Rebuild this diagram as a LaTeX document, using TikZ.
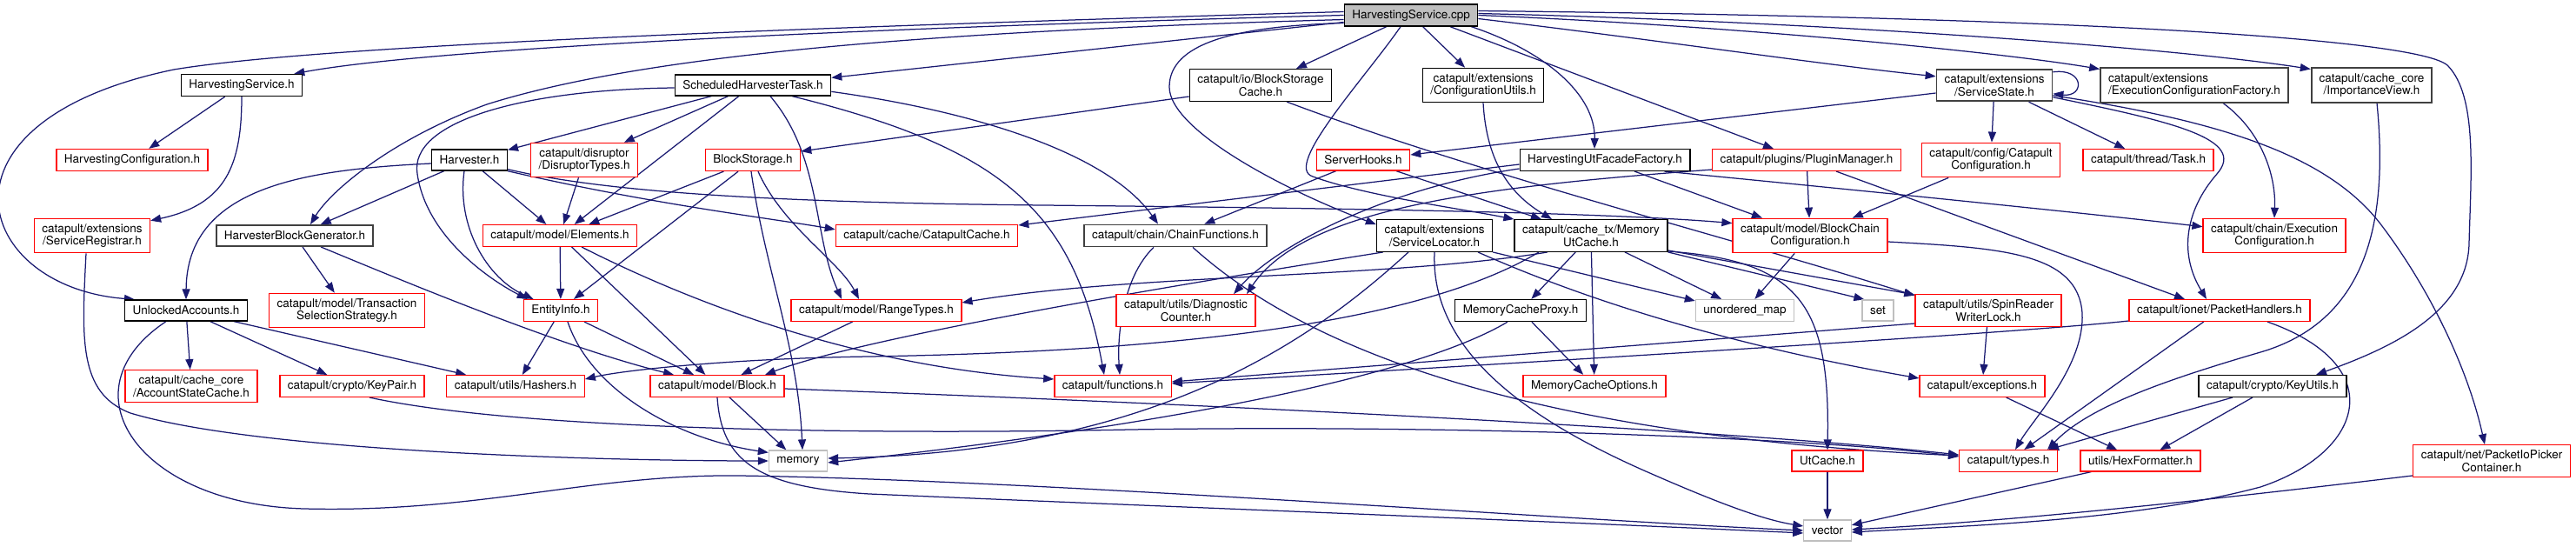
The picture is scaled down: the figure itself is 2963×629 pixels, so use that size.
\documentclass[tikz,border=0pt]{standalone}
\usepackage{fontspec}
\setmainfont{TeX Gyre Heros}
\usetikzlibrary{arrows.meta, backgrounds}
\definecolor{edgeblue}{HTML}{191970}
\definecolor{sysgray}{HTML}{BFBFBF}
\definecolor{nodeline}{HTML}{404040}

\begin{document}
\begin{tikzpicture}[
    x=1pt, y=-1pt,
    box/.style={draw=black, line width=1.3pt, fill=white, minimum height=24pt, inner xsep=9pt, inner ysep=6pt, align=center, font=\fontsize{13.5}{14.5}\selectfont},
    greybox/.style={box, draw=nodeline, line width=1.8pt},
    redbox/.style={box, draw=red},
    sysbox/.style={box, draw=sysgray},
    mainbox/.style={box, fill=sysgray},
    arrow/.style={draw=edgeblue, line width=1.25pt, -{Triangle[length=12pt, width=9pt]}},
]
\useasboundingbox (0,0) rectangle (2963,629);

% Source file
\node[mainbox] (cpp) at (1623,17.5) {HarvestingService.cpp};

% Row 1
\node[box] (hs) at (278,98) {HarvestingService.h};
\node[box] (sht) at (866,98) {ScheduledHarvesterTask.h};
\node[box] (bsc) at (1450,98) {catapult/io/BlockStorage\\Cache.h};
\node[box] (cu) at (1706,98) {catapult/extensions\\/ConfigurationUtils.h};
\node[greybox] (ss) at (2294,98) {catapult/extensions\\/ServiceState.h};
\node[greybox, align=left] (ecf) at (2524,98) {catapult/extensions\\/ExecutionConfigurationFactory.h};
\node[greybox] (iv) at (2728,98) {catapult/cache\_core\\/ImportanceView.h};

% Row 2
\node[redbox] (hc) at (152,184) {HarvestingConfiguration.h};
\node[box] (hv) at (540,184) {Harvester.h};
\node[redbox] (dt) at (672,184) {catapult/disruptor\\/DisruptorTypes.h};
\node[redbox] (bs) at (866,184) {BlockStorage.h};
\node[redbox] (sh) at (1568,184) {ServerHooks.h};
\node[box] (huf) at (1846,184) {HarvestingUtFacadeFactory.h};
\node[redbox] (pm) at (2078,184) {catapult/plugins/PluginManager.h};
\node[redbox] (cc) at (2290,184) {catapult/config/Catapult\\Configuration.h};
\node[redbox] (task) at (2471,184) {catapult/thread/Task.h};

% Row 3
\node[redbox] (sr) at (106,271) {catapult/extensions\\/ServiceRegistrar.h};
\node[greybox] (hbg) at (339,271) {HarvesterBlockGenerator.h};
\node[redbox] (el) at (644,271) {catapult/model/Elements.h};
\node[redbox] (ccache) at (1066,271) {catapult/cache/CatapultCache.h};
\node[greybox] (cf) at (1352,271) {catapult/chain/ChainFunctions.h};
\node[box] (sl) at (1650,271) {catapult/extensions\\/ServiceLocator.h};
\node[box] (muc) at (1830,271) {catapult/cache\_tx/Memory\\UtCache.h};
\node[redbox] (bcc) at (2082,271) {catapult/model/BlockChain\\Configuration.h};
\node[redbox] (ec) at (2616,271) {catapult/chain/Execution\\Configuration.h};

% Row 4
\node[box] (ua) at (214,357) {UnlockedAccounts.h};
\node[redbox] (tss) at (399,357) {catapult/model/Transaction\\SelectionStrategy.h};
\node[redbox] (ei) at (645,357) {EntityInfo.h};
\node[redbox] (rt) at (1008,357) {catapult/model/RangeTypes.h};
\node[redbox] (dc) at (1364,357) {catapult/utils/Diagnostic\\Counter.h};
\node[box] (mcp) at (1749,357) {MemoryCacheProxy.h};
\node[sysbox] (um) at (2007,357) {unordered\_map};
\node[sysbox] (stdset) at (2160,357) {set};
\node[redbox] (srw) at (2287,357) {catapult/utils/SpinReader\\WriterLock.h};
\node[redbox] (ph) at (2553,357) {catapult/ionet/PacketHandlers.h};

% Row 5
\node[redbox] (asc) at (220,444) {catapult/cache\_core\\/AccountStateCache.h};
\node[redbox] (kp) at (405,444) {catapult/crypto/KeyPair.h};
\node[redbox] (hash) at (593,444) {catapult/utils/Hashers.h};
\node[redbox] (blk) at (825,444) {catapult/model/Block.h};
\node[redbox] (fn) at (1280,444) {catapult/functions.h};
\node[redbox] (mco) at (1834,444) {MemoryCacheOptions.h};
\node[redbox] (exc) at (2280,444) {catapult/exceptions.h};
\node[box] (ku) at (2614,444) {catapult/crypto/KeyUtils.h};

% Row 6 and 7
\node[sysbox] (mem) at (918,530) {memory};
\node[redbox] (utc) at (2102,530) {UtCache.h};
\node[redbox] (types) at (2310,530) {catapult/types.h};
\node[redbox] (hex) at (2462,530) {utils/HexFormatter.h};
\node[redbox] (pipc) at (2866,530) {catapult/net/PacketIoPicker\\Container.h};
\node[sysbox] (vec) at (2102,610) {vector};

\begin{scope}[on background layer]
% Includes of the source file
\draw[arrow] ([yshift=4pt]cpp.west) .. controls (800,35) and (350,55) .. (200,80) .. controls (-90,140) and (-30,330) .. ([xshift=12pt]ua.north west);
\draw[arrow] (cpp.west) .. controls (1000,32) and (500,55) .. ([xshift=-10pt]hs.north east);
\draw[arrow] ([yshift=-5pt]cpp.west) .. controls (1100,35) and (750,60) .. (560,120) .. controls (450,160) and (380,220) .. ([xshift=18pt]hbg.north);
\draw[arrow] ([yshift=-8pt]cpp.west) -- ([yshift=-4pt]sht.north east);
\draw[arrow] ([yshift=-9pt]cpp.west) .. controls (1420,30) and (1345,50) .. (1345,100) .. controls (1345,150) and (1480,220) .. ([yshift=-6pt]sl.north west);
\draw[arrow] ([xshift=-12pt]cpp.south) .. controls (1570,90) and (1475,192) .. (1510,203) .. controls (1570,225) and (1680,240) .. (muc.north west);
\draw[arrow] (cpp) -- (bsc);
\draw[arrow] (cpp) -- (cu);
\draw[arrow] ([xshift=-8pt]cpp.south east) .. controls (1780,60) and (1835,110) .. ([xshift=-12pt]huf.north);
\draw[arrow] ([xshift=45pt]cpp.south) -- ([xshift=-38pt]pm.north);
\draw[arrow] ([yshift=-4pt]cpp.east) .. controls (1900,45) and (2100,75) .. ([yshift=-9pt]ss.north west);
\draw[arrow] (cpp.east) .. controls (2000,30) and (2300,60) .. ([yshift=-2pt]ecf.north west);
\draw[arrow] ([yshift=2pt]cpp.east) .. controls (2100,25) and (2500,55) .. ([yshift=-2pt]iv.north west);
\draw[arrow] ([yshift=5pt]cpp.east) .. controls (2400,20) and (2780,45) .. (2815,75) .. controls (2850,110) and (2842,200) .. (2840,280) .. controls (2838,360) and (2750,400) .. ([xshift=50pt]ku.north);

% Row 1 includes
\draw[arrow] (hs) -- (hc);
\draw[arrow] (hs.south) .. controls (278,190) and (260,235) .. ([yshift=-3pt]sr.north east);
\draw[arrow] (sht) -- (hv);
\draw[arrow] (sht) -- (dt);
\draw[arrow] (sht) -- (el);
\draw[arrow] ([yshift=-3pt]sht.west) .. controls (600,103) and (470,140) .. (480,200) .. controls (490,270) and (560,320) .. ([xshift=5pt]ei.north west);
\draw[arrow] ([xshift=20pt]sht.south) .. controls (945,180) and (935,270) .. ([xshift=-40pt]rt.north);
\draw[arrow] ([yshift=-20pt]sht.north east) .. controls (1100,125) and (1270,170) .. ([xshift=-20pt]cf.north);
\draw[arrow] ([xshift=-45pt]sht.south east) .. controls (1150,170) and (1235,240) .. ([xshift=-10pt]fn.north);
\draw[arrow] ([yshift=-13pt]bsc.west) -- ([yshift=10pt]bs.east);
\draw[arrow] ([xshift=30pt]bsc.south) .. controls (1700,200) and (1980,270) .. ([yshift=-2pt]srw.north west);
\draw[arrow] (cu.south) .. controls (1710,190) and (1740,225) .. ([xshift=-45pt]muc.north);
\draw[arrow] ([yshift=-4pt]ss.north east) .. controls (2398,78) and (2398,112) .. ([yshift=-29pt]ss.north east);
\draw[arrow] ([yshift=-9pt]ss.west) -- ([yshift=6pt]sh.east);
\draw[arrow] (ss) -- (cc);
\draw[arrow] (ss) -- (task);
\draw[arrow] ([yshift=-33pt]ss.north east) .. controls (2500,140) and (2585,160) .. (2550,200) .. controls (2515,240) and (2505,290) .. ([xshift=-15pt]ph.north);
\draw[arrow] ([yshift=-31pt]ss.north east) .. controls (2560,140) and (2680,180) .. (2740,260) .. controls (2800,340) and (2840,430) .. ([xshift=-8pt]pipc.north);
\draw[arrow] ([xshift=33pt]ecf.south) .. controls (2600,150) and (2618,200) .. (ec.north);
\draw[arrow] ([xshift=6pt]iv.south) .. controls (2748,260) and (2720,370) .. (2600,405) .. controls (2480,440) and (2400,470) .. ([xshift=45pt]types.north);

% Row 2 includes
\draw[arrow] ([yshift=-4pt]hv.west) .. controls (350,195) and (215,215) .. (ua.north);
\draw[arrow] (hv) -- (hbg);
\draw[arrow] (hv) -- (el);
\draw[arrow] ([xshift=-6pt]hv.south) .. controls (525,260) and (560,320) .. ([xshift=12pt]ei.north west);
\draw[arrow] (hv.south east) .. controls (750,235) and (880,250) .. ([yshift=-6pt]ccache.north west);
\draw[arrow] ([yshift=2pt]hv.south east) .. controls (700,222) and (900,233) .. (1200,236) .. controls (1600,240) and (1850,245) .. ([yshift=-6pt]bcc.north west);
\draw[arrow] (dt) -- (el);
\draw[arrow] (bs) -- (el);
\draw[arrow] (bs) -- ([xshift=15pt]ei.north);
\draw[arrow] ([xshift=6pt]bs.south) .. controls (900,260) and (965,300) .. ([xshift=-20pt]rt.north);
\draw[arrow] ([xshift=-2pt]bs.south) .. controls (880,310) and (918,400) .. ([xshift=5pt]mem.north);
\draw[arrow] (sh) -- (cf);
\draw[arrow] (sh) -- (muc);
\draw[arrow] ([yshift=-5pt]huf.west) -- ([yshift=12pt]ccache.east);
\draw[arrow] ([yshift=-10pt]huf.west) .. controls (1600,215) and (1470,280) .. ([xshift=55pt]dc.north);
\draw[arrow] ([xshift=34pt]huf.south) -- ([xshift=-55pt]bcc.north);
\draw[arrow] ([xshift=-30pt]huf.south east) .. controls (2100,215) and (2400,245) .. ([yshift=-10pt]ec.north west);
\draw[arrow] ([yshift=2pt]pm.south west) .. controls (1700,215) and (1500,240) .. ([xshift=70pt]dc.north);
\draw[arrow] (pm) -- (bcc);
\draw[arrow] ([xshift=34pt]pm.south) -- ([xshift=-40pt]ph.north);
\draw[arrow] (cc) -- (bcc);

% Row 3 includes
\draw[arrow] ([xshift=-7pt]sr.south) .. controls (94,390) and (90,452) .. (150,475) .. controls (300,520) and (700,530) .. (mem.west);
\draw[arrow] (hbg) -- (tss);
\draw[arrow] ([xshift=30pt]hbg.south) .. controls (480,330) and (650,400) .. ([xshift=-50pt]blk.north);
\draw[arrow] (el) -- (ei);
\draw[arrow] (el) -- (blk);
\draw[arrow] ([xshift=25pt]el.south) .. controls (760,330) and (960,420) .. ([yshift=8pt]fn.west);
\draw[arrow] ([xshift=-25pt]cf.south) .. controls (1290,320) and (1285,390) .. ([xshift=8pt]fn.north);
\draw[arrow] ([xshift=20pt]cf.south) .. controls (1500,400) and (1750,500) .. ([yshift=6pt]types.west);
\draw[arrow] ([xshift=8pt]sl.south west) .. controls (1400,320) and (1000,385) .. ([xshift=55pt]blk.north);
\draw[arrow] ([xshift=-30pt]sl.south) .. controls (1500,400) and (1320,520) .. ([yshift=3pt]mem.east);
\draw[arrow] (sl.south) .. controls (1645,400) and (1750,480) .. (1900,545) .. controls (1980,580) and (2030,598) .. ([yshift=5pt]vec.west);
\draw[arrow] (sl.south east) -- ([yshift=-2pt]um.north west);
\draw[arrow] ([xshift=50pt]sl.south) .. controls (1790,330) and (1950,390) .. ([yshift=-4pt]exc.north west);
\draw[arrow] ([xshift=-60pt]muc.south) .. controls (1620,380) and (1300,405) .. (1000,410) .. controls (850,412) and (720,425) .. ([yshift=8pt]hash.east);
\draw[arrow] ([xshift=-50pt]muc.south) .. controls (1600,320) and (1300,315) .. ([yshift=9pt]rt.east);
\draw[arrow] (muc) -- (mcp);
\draw[arrow] (muc) -- (mco);
\draw[arrow] (muc) -- (um);
\draw[arrow] (muc.south east) -- ([xshift=3pt]stdset.north west);
\draw[arrow] ([yshift=2pt]muc.south east) -- ([yshift=-1pt]srw.north west);
\draw[arrow] ([yshift=1pt]muc.south east) .. controls (2070,300) and (2105,350) .. (utc.north);
\draw[arrow] (bcc) -- (um);
\draw[arrow] ([yshift=-7pt]bcc.east) .. controls (2300,285) and (2390,290) .. (2395,360) .. controls (2398,420) and (2340,480) .. ([xshift=8pt]types.north);

% Row 4 includes
\draw[arrow] (ua) -- (asc);
\draw[arrow] (ua) -- (kp);
\draw[arrow] (ua) -- (hash);
\draw[arrow] ([xshift=-23pt]ua.south) .. controls (70,450) and (160,580) .. (350,585) .. controls (550,590) and (680,545) .. (850,547) .. controls (1200,552) and (1800,598) .. (vec.west);
\draw[arrow] (ei) -- (hash);
\draw[arrow] (ei) -- (blk);
\draw[arrow] ([xshift=8pt]ei.south) .. controls (680,450) and (780,505) .. ([yshift=-3pt]mem.north west);
\draw[arrow] (rt) -- (blk);
\draw[arrow] (mcp) -- (mco);
\draw[arrow] ([xshift=-15pt]mcp.south) .. controls (1600,450) and (1200,505) .. ([yshift=-2pt]mem.east);
\draw[arrow] (srw) -- (exc);
\draw[arrow] ([yshift=-15pt]srw.west) -- ([yshift=5pt]fn.east);
\draw[arrow] ([yshift=-12pt]ph.west) .. controls (2300,385) and (1700,420) .. ([yshift=3pt]fn.east);
\draw[arrow] (ph) -- (types);
\draw[arrow] ([xshift=55pt]ph.south) .. controls (2750,420) and (2720,520) .. (2600,560) .. controls (2450,600) and (2250,605) .. ([yshift=-2pt]vec.east);

% Row 5 and 6 includes
\draw[arrow] (blk) -- (mem);
\draw[arrow] ([yshift=-3pt]blk.east) .. controls (1400,465) and (2000,495) .. ([yshift=7pt]types.west);
\draw[arrow] (blk.south) .. controls (830,530) and (870,560) .. (1000,568) .. controls (1400,585) and (1800,600) .. ([yshift=-3pt]vec.west);
\draw[arrow] ([xshift=20pt]kp.south) .. controls (600,495) and (1000,500) .. (1300,494) .. controls (1700,488) and (2100,505) .. ([yshift=5pt]types.west);
\draw[arrow] (exc) -- (hex);
\draw[arrow] (ku) -- (types);
\draw[arrow] (ku) -- (hex);
\draw[arrow] (utc) -- (vec);
\draw[arrow] (hex) -- (vec);
\draw[arrow] ([yshift=2pt]pipc.south west) .. controls (2500,580) and (2300,600) .. ([yshift=1pt]vec.east);
\end{scope}

\end{tikzpicture}
\end{document}
